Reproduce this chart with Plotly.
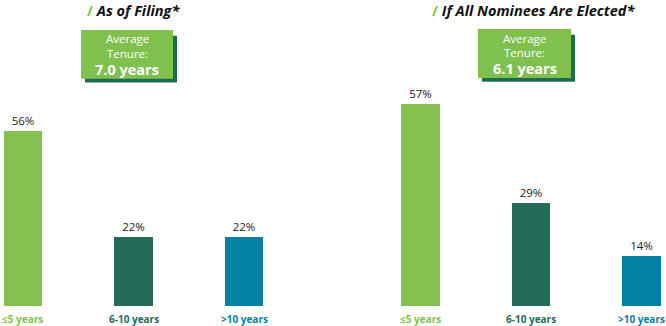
import plotly.graph_objects as go

categories = ["≤5 years", "6-10 years", ">10 years"]
filing_values = [56, 22, 22]
elected_values = [57, 29, 14]
bar_colors = ["#84c150", "#246b5a", "#0380a3"]
panel_titles = ["As of Filing*", "If All Nominees Are Elected*"]
avg_tenure = ["7.0 years", "6.1 years"]

W, H = 666, 326
fig = go.Figure()

fig.add_trace(go.Bar(x=[0, 1, 2], y=filing_values, width=0.345, marker_color=bar_colors,
                     marker_line_width=0, text=[f"{v}%" for v in filing_values],
                     textposition="outside", cliponaxis=False,
                     textfont=dict(family="Open Sans", size=11.5, color="#222"),
                     xaxis="x", yaxis="y"))
fig.add_trace(go.Bar(x=[0, 1, 2], y=elected_values, width=0.35, marker_color=bar_colors,
                     marker_line_width=0, text=[f"{v}%" for v in elected_values],
                     textposition="outside", cliponaxis=False,
                     textfont=dict(family="Open Sans", size=11.5, color="#222"),
                     xaxis="x2", yaxis="y2"))

ax = dict(showgrid=False, zeroline=False, showticklabels=False, showline=False, ticks="")
fig.update_layout(
    width=W, height=H, margin=dict(l=0, r=0, t=0, b=20),
    paper_bgcolor="white", plot_bgcolor="white", showlegend=False,
    xaxis=dict(domain=[0, 0.5], range=[-0.208, 2.805], **ax),
    xaxis2=dict(domain=[0.5, 1], range=[-0.795, 2.222], **ax),
    yaxis=dict(range=[0, 306 / 3.125], **ax),
    yaxis2=dict(range=[0, 306 / 3.54], anchor="x2", **ax),
    bargap=0,
)

# category labels
for xr in ["x", "x2"]:
    for i, c in enumerate(categories):
        fig.add_annotation(x=i, y=0, xref=xr, yref="y" if xr == "x" else "y2",
                           text=f"<b>{c}</b>", showarrow=False, yanchor="middle", yshift=-13,
                           font=dict(family="Open Sans", size=10, color=bar_colors[i]))

# titles
title_x = [133, 533]
for tx, t in zip(title_x, panel_titles):
    fig.add_annotation(x=tx / W, y=1, xref="paper", yref="paper",
                       text=f"<span style='color:#84c150'><b>/</b></span> <b><i>{t}</i></b>",
                       showarrow=False, xanchor="center", yanchor="top", borderpad=0,
                       font=dict(family="Open Sans", size=14.5, color="#111"))

# average tenure boxes
boxes = [(81, 32, 173, 84), (478, 31, 571, 83)]
for (x0, y0, x1, y1), val in zip(boxes, avg_tenure):
    fig.add_shape(type="rect", xref="paper", yref="paper", line_width=0,
                  fillcolor="#1f6b50",
                  x0=(x0 + 4) / W, x1=(x1 + 4) / W, y0=1 - (y1 + 4) / H, y1=1 - (y0 + 6) / H)
    fig.add_shape(type="rect", xref="paper", yref="paper", line_width=0,
                  fillcolor="#7fc04f",
                  x0=x0 / W, x1=x1 / W, y0=1 - y1 / H, y1=1 - y0 / H)
    cx = (x0 + x1) / 2
    lines = [("Average", 11.5, False, 9.5), ("Tenure:", 11.5, False, 25.2), (val, 14.5, True, 42.5)]
    for txt, sz, bold, dy in lines:
        fig.add_annotation(x=cx / W, y=1 - (y0 + dy) / H, xref="paper", yref="paper",
                           text=f"<b>{txt}</b>" if bold else txt,
                           showarrow=False, xanchor="center", yanchor="middle", borderpad=0,
                           font=dict(family="Open Sans", size=sz, color="white"))

fig.write_html("out.html")
